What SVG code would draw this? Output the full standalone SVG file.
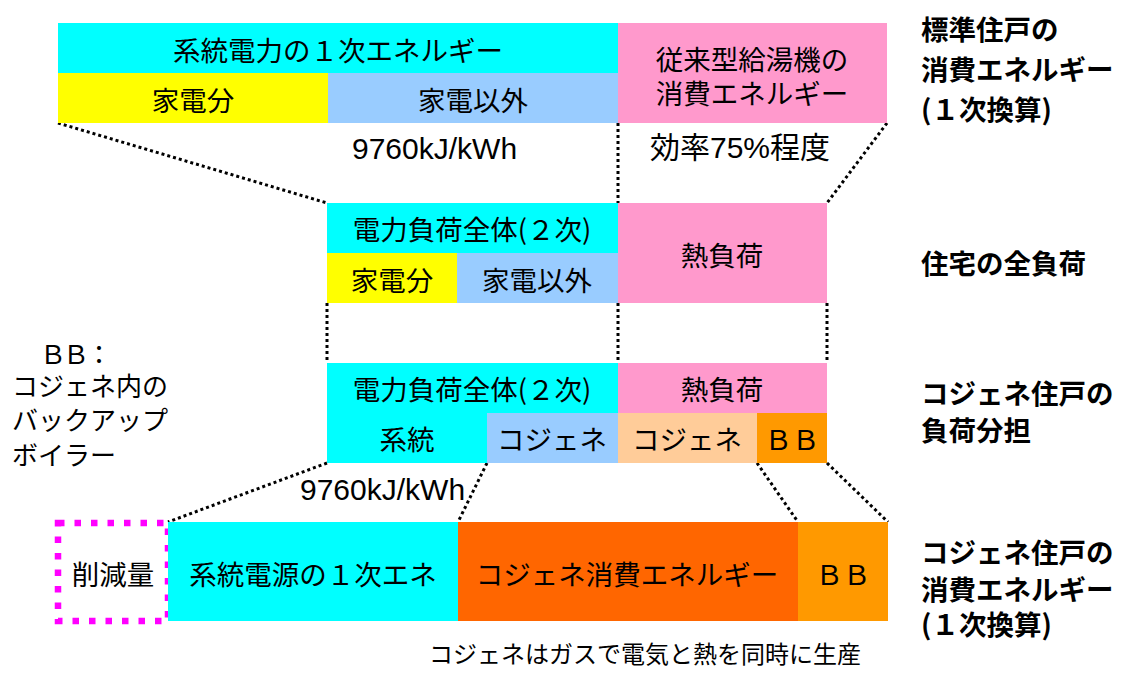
<svg xmlns="http://www.w3.org/2000/svg" width="1127" height="673" viewBox="0 0 1127 673">
<style>
.t{font-family:"Noto Sans CJK JP","Noto Sans",sans-serif;font-size:27.5px;fill:#000;text-anchor:middle;dominant-baseline:central}
.l{font-family:"Noto Sans CJK JP","Noto Sans",sans-serif;font-size:26px;fill:#000;dominant-baseline:central}
.b{font-family:"Noto Sans CJK JP","Noto Sans",sans-serif;font-size:27.5px;font-weight:bold;fill:#000;dominant-baseline:central}
.n{font-family:"Liberation Sans","Noto Sans CJK JP",sans-serif;font-size:30px;fill:#000;dominant-baseline:central}
.c{stroke:#000;stroke-width:3;stroke-dasharray:3 3;fill:none}
.cy{fill:#00FFFF}.ye{fill:#FFFF00}.lb{fill:#99CCFF}.pk{fill:#FF99CC}.pe{fill:#FFCC99}.or{fill:#FF9900}.rd{fill:#FF6600}
</style>
<rect width="1127" height="673" fill="#fff"/>
<g id="connectors">
<line class="c" x1="58" y1="123" x2="327" y2="203"/>
<line class="c" x1="618" y1="123" x2="618" y2="203"/>
<line class="c" x1="887" y1="123" x2="827" y2="203"/>
<line class="c" x1="327" y1="303" x2="327" y2="363"/>
<line class="c" x1="618" y1="303" x2="618" y2="363"/>
<line class="c" x1="827" y1="303" x2="827" y2="363"/>
<line class="c" x1="327" y1="463" x2="168" y2="522"/>
<line class="c" x1="487" y1="463" x2="458" y2="522"/>
<line class="c" x1="757" y1="463" x2="798" y2="522"/>
<line class="c" x1="827" y1="463" x2="888" y2="522"/>
</g>
<g id="row1-grid-primary">
<rect class="cy" x="58" y="23" width="560" height="50"/>
<text class="t" x="338" y="49">系統電力の１次エネルギー</text>
</g>
<g id="row1-kaden">
<rect class="ye" x="58" y="73" width="270" height="50"/>
<text class="t" x="193" y="99">家電分</text>
</g>
<g id="row1-other">
<rect class="lb" x="328" y="73" width="290" height="50"/>
<text class="t" x="473" y="99">家電以外</text>
</g>
<g id="row1-boiler">
<rect class="pk" x="618" y="23" width="269" height="100"/>
<text class="t" x="752" y="58">従来型給湯機の</text>
<text class="t" x="752" y="92">消費エネルギー</text>
</g>
<g id="label-9760-top"><text class="n" x="352" y="148">9760kJ/kWh</text></g>
<g id="label-eff"><text class="n" x="650" y="147">効率75%程度</text></g>
<g id="row2-elec">
<rect class="cy" x="327" y="203" width="291" height="50"/>
<text class="t" x="472" y="228">電力負荷全体(２次)</text>
</g>
<g id="row2-kaden">
<rect class="ye" x="327" y="253" width="130" height="50"/>
<text class="t" x="392" y="279">家電分</text>
</g>
<g id="row2-other">
<rect class="lb" x="457" y="253" width="161" height="50"/>
<text class="t" x="537" y="279">家電以外</text>
</g>
<g id="row2-heat">
<rect class="pk" x="618" y="203" width="209" height="100"/>
<text class="t" x="722" y="254">熱負荷</text>
</g>
<g id="row3-elec">
<rect class="cy" x="327" y="363" width="291" height="50"/>
<text class="t" x="472" y="388">電力負荷全体(２次)</text>
</g>
<g id="row3-heat">
<rect class="pk" x="618" y="363" width="209" height="50"/>
<text class="t" x="722" y="388">熱負荷</text>
</g>
<g id="row3-grid">
<rect class="cy" x="327" y="413" width="160" height="50"/>
<text class="t" x="407" y="438">系統</text>
</g>
<g id="row3-cogen-e">
<rect class="lb" x="487" y="413" width="131" height="50"/>
<text class="t" x="552" y="438">コジェネ</text>
</g>
<g id="row3-cogen-h">
<rect class="pe" x="618" y="413" width="139" height="50"/>
<text class="t" x="687" y="438">コジェネ</text>
</g>
<g id="row3-bb">
<rect class="or" x="757" y="413" width="70" height="50"/>
<text class="t" x="792" y="438">ＢＢ</text>
</g>
<g id="label-9760-mid"><text class="n" x="300" y="489">9760kJ/kWh</text></g>
<g id="bb-note">
<text class="l" x="40" y="352" letter-spacing="-3">ＢＢ：</text>
<text class="l" x="12" y="384">コジェネ内の</text>
<text class="l" x="12" y="418">バックアップ</text>
<text class="l" x="12" y="453">ボイラー</text>
</g>
<g id="row4-saving">
<rect x="58" y="523" width="110" height="98" fill="none" stroke="#FF00FF" stroke-width="6.5" stroke-dasharray="6.5 10"/>
<text class="t" x="113" y="573">削減量</text>
</g>
<g id="row4-grid">
<rect class="cy" x="168" y="522" width="290" height="99"/>
<text class="t" x="313" y="573">系統電源の１次エネ</text>
</g>
<g id="row4-cogen">
<rect class="rd" x="458" y="522" width="340" height="99"/>
<text class="t" x="627" y="573">コジェネ消費エネルギー</text>
</g>
<g id="row4-bb">
<rect class="or" x="798" y="522" width="90" height="99"/>
<text class="t" x="843" y="573">ＢＢ</text>
</g>
<g id="side-labels">
<text class="b" x="921" y="28">標準住戸の</text>
<text class="b" x="921" y="68">消費エネルギー</text>
<text class="b" x="921" y="108">(１次換算)</text>
<text class="b" x="921" y="262">住宅の全負荷</text>
<text class="b" x="921" y="392">コジェネ住戸の</text>
<text class="b" x="921" y="429">負荷分担</text>
<text class="b" x="921" y="551">コジェネ住戸の</text>
<text class="b" x="921" y="588">消費エネルギー</text>
<text class="b" x="921" y="623">(１次換算)</text>
</g>
<g id="caption">
<text class="t" x="645" y="652" style="font-size:24px">コジェネはガスで電気と熱を同時に生産</text>
</g>
</svg>
